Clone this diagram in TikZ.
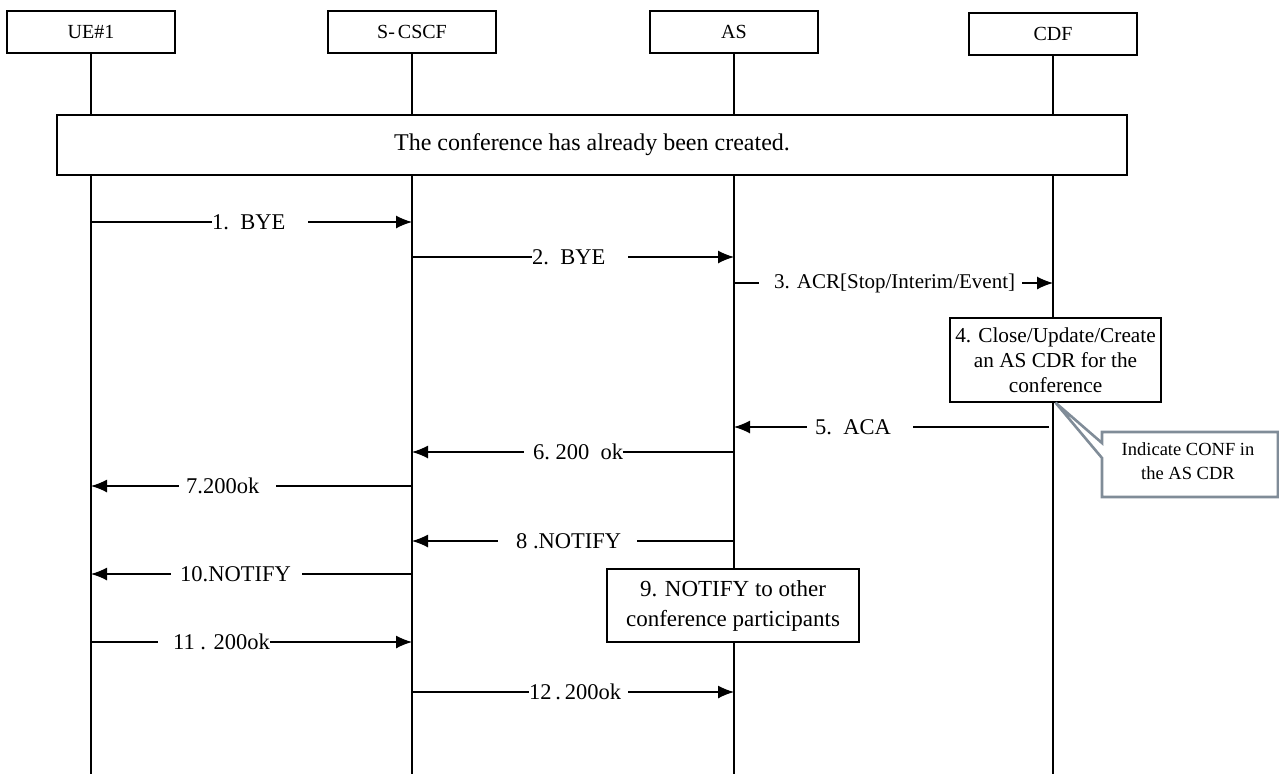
\documentclass[tikz,border=0pt]{standalone}
\usepackage{fontspec}
\setmainfont{Liberation Serif}
\usetikzlibrary{arrows.meta}
\definecolor{callgray}{RGB}{128,140,152}
\begin{document}
\begin{tikzpicture}[x=1pt,y=-1pt,
  hdr/.style={draw, fill=white, line width=1.3pt, minimum width=168pt, minimum height=42pt, inner sep=0pt, font=\fontsize{20}{24}\selectfont},
  life/.style={line width=1.3pt},
  msg/.style={line width=1.3pt, -{Latex[length=16pt,width=13pt]}},
  lbl/.style={fill=white, inner xsep=0pt, inner ysep=1pt, anchor=west, font=\fontsize{22.5}{26}\selectfont},
  stepbox/.style={draw, fill=white, line width=1.3pt, inner sep=0pt, align=center}
]
\useasboundingbox (0,0) rectangle (1279,774);

% headers
\node[hdr] (ue) at (91,32) {UE\#1};
\node[hdr] (sc) at (412,32) {S-\kern3pt CSCF};
\node[hdr] (as) at (734,32) {AS};
\node[hdr] (cdf) at (1053,34) {CDF};

% lifelines
\coordinate (ueend) at (91,774);
\coordinate (scend) at (412,774);
\coordinate (asend) at (734,774);
\coordinate (cdfend) at (1053,774);
\draw[life] (ue.south) -- (ueend);
\draw[life] (sc.south) -- (scend);
\draw[life] (as.south) -- (asend);
\draw[life] (cdf.south) -- (cdfend);

% conference box
\node[stepbox, minimum width=1070pt, minimum height=60pt, font=\fontsize{24}{28}\selectfont] (conf) at (592,145) {The conference has already been created.};

% step boxes
\node[stepbox, minimum width=211pt, minimum height=84pt, font=\fontsize{21.3}{25}\selectfont] (cdr) at (1055.5,360) {4. Close/Update/Create\\an AS CDR for the\\conference};
\node[stepbox, minimum width=252pt, minimum height=73pt, font=\fontsize{23}{30}\selectfont] (notif) at (733,605.5) {9. NOTIFY to other\\conference participants};

% callout
\coordinate (c1) at (1102,443);
\coordinate (c2) at (1102,432);
\coordinate (c3) at (1278,432);
\coordinate (c4) at (1278,497);
\coordinate (c5) at (1102,497);
\coordinate (c6) at (1102,458);
\draw[callgray, line width=2.6pt, line join=miter, fill=white] (cdr.south) -- (c1) -- (c2) -- (c3) -- (c4) -- (c5) -- (c6) -- cycle;
\node[align=center, inner sep=0pt, font=\fontsize{18.5}{24}\selectfont] (calltxt) at (1188,461) {Indicate CONF in\\the AS CDR};

% messages
\coordinate (m1s) at (91,222);  \coordinate (m1e) at (412,222);
\draw[msg] (m1s) -- (m1e);
\node[lbl] (l1) at (212,222) {1.~~BYE\kern23pt};

\coordinate (m2s) at (412,257);  \coordinate (m2e) at (734,257);
\draw[msg] (m2s) -- (m2e);
\node[lbl] (l2) at (532,257) {2.~~BYE\kern23pt};

\coordinate (m3s) at (734,283);  \coordinate (m3e) at (1053,283);
\draw[msg] (m3s) -- (m3e);
\node[lbl, font=\fontsize{21}{26}\selectfont] (l3) at (759,283) {\kern15pt 3. ACR[Stop/Interim/Event]\kern7pt};

\coordinate (m5s) at (1049,427);  \coordinate (m5e) at (734,427);
\draw[msg] (m5s) -- (m5e);
\node[lbl] (l5) at (807,427) {\kern8pt 5.~~ACA\kern22pt};

\coordinate (m6s) at (734,452);  \coordinate (m6e) at (412,452);
\draw[msg] (m6s) -- (m6e);
\node[lbl] (l6) at (524,452) {\kern9pt 6.~200~~ok};

\coordinate (m7s) at (412,486);  \coordinate (m7e) at (91,486);
\draw[msg] (m7s) -- (m7e);
\node[lbl] (l7) at (179,486) {\kern7pt 7.200ok\kern17pt};

\coordinate (m8s) at (734,541);  \coordinate (m8e) at (412,541);
\draw[msg] (m8s) -- (m8e);
\node[lbl] (l8) at (498,541) {\kern18pt 8 .NOTIFY\kern16pt};

\coordinate (m10s) at (412,574);  \coordinate (m10e) at (91,574);
\draw[msg] (m10s) -- (m10e);
\node[lbl] (l10) at (171,574) {\kern9pt 10.NOTIFY\kern11pt};

\coordinate (m11s) at (91,642);  \coordinate (m11e) at (412,642);
\draw[msg] (m11s) -- (m11e);
\node[lbl] (l11) at (158,642) {\kern15pt 11 . 200ok};

\coordinate (m12s) at (412,692);  \coordinate (m12e) at (734,692);
\draw[msg] (m12s) -- (m12e);
\node[lbl] (l12) at (529,692) {12\,.\,200ok\kern7pt};
\end{tikzpicture}
\end{document}
